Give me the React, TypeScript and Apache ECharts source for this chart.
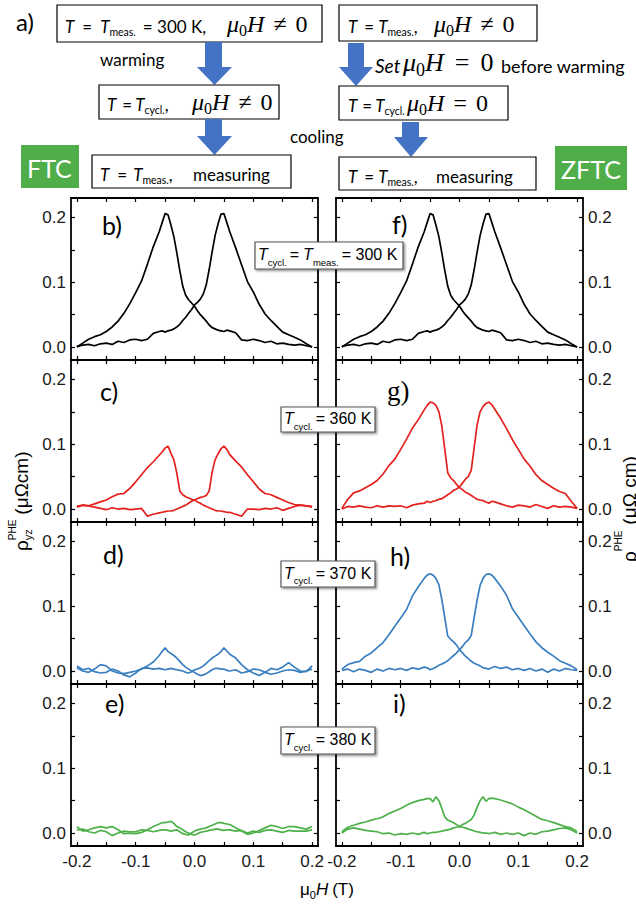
import { useEffect, useRef } from "react";
import * as echarts from "echarts";

// ---------- data ----------
const X = [
  -0.2, -0.19, -0.18, -0.17, -0.16, -0.15, -0.14, -0.13, -0.12, -0.11, -0.1, -0.09, -0.08, -0.07, -0.06,
  -0.055, -0.05, -0.045, -0.04, -0.035, -0.03, -0.025, -0.02, -0.015, -0.01, -0.005, 0, 0.005, 0.01, 0.015, 0.02, 0.025, 0.03, 0.035, 0.04, 0.045, 0.05, 0.055,
  0.06, 0.07, 0.08, 0.09, 0.1, 0.11, 0.12, 0.13, 0.14, 0.15, 0.16, 0.17, 0.18, 0.19, 0.2,
];

// T_cycl = T_meas = 300 K (panels b and f)
const RT_DOWN = [
  0.000, 0.006, 0.012, 0.016, 0.019, 0.024, 0.031, 0.040, 0.052, 0.067, 0.084, 0.102, 0.128, 0.155, 0.178,
  0.192, 0.206, 0.204, 0.188, 0.170, 0.145, 0.118, 0.094, 0.080, 0.073, 0.068, 0.063, 0.056, 0.050, 0.045, 0.040, 0.034, 0.030, 0.028, 0.026, 0.025, 0.024, 0.026,
  0.025, 0.022, 0.011, 0.010, 0.012, 0.010, 0.007, 0.009, 0.005, 0.006, 0.004, 0.003, 0.004, 0.002, 0.000,
];
const RT_UP = [
  0.001, 0.003, 0.004, 0.002, 0.005, 0.006, 0.004, 0.009, 0.007, 0.011, 0.012, 0.010, 0.012, 0.021, 0.024,
  0.025, 0.023, 0.025, 0.026, 0.028, 0.031, 0.035, 0.041, 0.046, 0.052, 0.058, 0.065, 0.069, 0.074, 0.082, 0.096, 0.120, 0.147, 0.172, 0.190, 0.205, 0.206, 0.192,
  0.178, 0.153, 0.127, 0.101, 0.085, 0.066, 0.051, 0.041, 0.032, 0.023, 0.019, 0.015, 0.011, 0.005, 0.000,
];
// FTC 360 K (c)
const FTC360_DOWN = [
  0.004, 0.006, 0.005, 0.008, 0.011, 0.014, 0.019, 0.023, 0.024, 0.032, 0.042, 0.053, 0.064, 0.073, 0.083,
  0.088, 0.094, 0.097, 0.086, 0.076, 0.055, 0.028, 0.022, 0.019, 0.017, 0.015, 0.014, 0.011, 0.009, 0.006, 0.004, 0.002, 0.000, -0.002, -0.003, -0.003, -0.004, -0.005,
  -0.005, -0.008, -0.011, 0.000, 0.000, -0.001, 0.001, 0.000, 0.002, -0.002, 0.001, 0.004, 0.006, 0.005, 0.003,
];
const FTC360_UP = [
  0.003, 0.006, 0.005, 0.003, 0.001, -0.001, 0.002, 0.000, 0.001, -0.001, 0.000, 0.001, -0.011, -0.008, -0.006,
  -0.005, -0.004, -0.003, -0.003, -0.002, 0.000, 0.002, 0.004, 0.006, 0.009, 0.012, 0.014, 0.016, 0.018, 0.019, 0.021, 0.028, 0.057, 0.076, 0.085, 0.093, 0.097, 0.092,
  0.084, 0.074, 0.065, 0.053, 0.042, 0.031, 0.024, 0.022, 0.018, 0.014, 0.010, 0.007, 0.006, 0.005, 0.004,
];
// FTC 370 K (d)
const FTC370_DOWN = [
  0.005, 0.000, -0.002, 0.003, 0.010, 0.008, 0.000, -0.003, -0.004, -0.002, 0.000, 0.003, 0.008, 0.014, 0.024,
  0.030, 0.036, 0.030, 0.027, 0.024, 0.020, 0.015, 0.010, 0.006, 0.003, 0.000, -0.002, -0.005, -0.007, -0.006, -0.004, -0.001, 0.002, 0.004, 0.004, 0.003, 0.003, 0.001,
  0.000, 0.002, -0.003, -0.001, 0.003, 0.002, -0.002, -0.005, -0.003, 0.000, 0.002, 0.001, -0.002, 0.000, 0.003,
];
const FTC370_UP = [
  0.008, 0.002, 0.004, -0.001, -0.003, -0.002, 0.003, 0.000, -0.006, -0.009, -0.003, 0.004, 0.005, 0.003, 0.004,
  0.003, 0.002, 0.003, 0.004, 0.003, 0.002, 0.001, 0.000, -0.002, -0.003, -0.001, 0.002, 0.003, 0.005, 0.008, 0.012, 0.016, 0.020, 0.023, 0.026, 0.030, 0.036, 0.031,
  0.026, 0.020, 0.010, 0.002, -0.003, -0.007, -0.002, 0.004, 0.002, 0.006, 0.013, 0.006, 0.000, -0.001, 0.008,
];
// FTC 380 K (e)
const FTC380_DOWN = [
  0.010, 0.003, 0.005, 0.008, 0.010, 0.008, 0.010, 0.005, -0.001, 0.000, -0.001, 0.001, 0.005, 0.010, 0.014,
  0.016, 0.016, 0.017, 0.018, 0.015, 0.010, 0.008, 0.005, 0.002, 0.000, -0.002, -0.003, -0.001, 0.001, 0.002, 0.003, 0.004, 0.005, 0.006, 0.006, 0.005, 0.004, 0.005,
  0.005, 0.003, 0.004, 0.000, 0.003, 0.001, 0.004, 0.005, 0.003, 0.001, 0.004, 0.003, 0.003, 0.003, 0.005,
];
const FTC380_UP = [
  0.005, 0.006, 0.002, 0.000, 0.004, 0.002, -0.004, 0.000, 0.003, 0.002, 0.002, 0.005, 0.004, 0.002, 0.004,
  0.005, 0.005, 0.004, 0.003, 0.004, 0.005, 0.002, -0.001, -0.002, -0.003, 0.000, 0.003, 0.005, 0.006, 0.007, 0.008, 0.010, 0.012, 0.014, 0.016, 0.016, 0.015, 0.014,
  0.013, 0.008, 0.003, -0.002, 0.000, 0.004, 0.008, 0.012, 0.010, 0.007, 0.010, 0.010, 0.008, 0.006, 0.010,
];
// ZFTC 360 K (g)
const ZFTC360_DOWN = [
  0.001, 0.015, 0.025, 0.028, 0.033, 0.038, 0.044, 0.054, 0.067, 0.077, 0.092, 0.108, 0.125, 0.138, 0.153,
  0.160, 0.165, 0.164, 0.160, 0.150, 0.128, 0.092, 0.056, 0.048, 0.044, 0.038, 0.033, 0.030, 0.026, 0.024, 0.021, 0.018, 0.015, 0.014, 0.013, 0.011, 0.009, 0.012,
  0.011, 0.008, 0.005, 0.003, 0.006, 0.005, 0.003, 0.007, 0.004, 0.001, 0.005, 0.003, 0.004, 0.003, 0.001,
];
const ZFTC360_UP = [
  0.000, 0.004, 0.003, 0.005, 0.003, 0.002, 0.005, 0.003, 0.005, 0.004, 0.005, 0.002, 0.006, 0.008, 0.009,
  0.012, 0.010, 0.012, 0.013, 0.015, 0.016, 0.019, 0.022, 0.025, 0.029, 0.031, 0.034, 0.040, 0.046, 0.050, 0.060, 0.095, 0.130, 0.150, 0.158, 0.163, 0.165, 0.161,
  0.154, 0.140, 0.124, 0.107, 0.092, 0.077, 0.066, 0.053, 0.044, 0.038, 0.032, 0.027, 0.024, 0.012, 0.001,
];
// ZFTC 370 K (h)
const ZFTC370_DOWN = [
  0.003, 0.010, 0.013, 0.015, 0.023, 0.028, 0.036, 0.044, 0.056, 0.069, 0.082, 0.095, 0.116, 0.130, 0.143,
  0.148, 0.150, 0.148, 0.143, 0.133, 0.110, 0.082, 0.054, 0.049, 0.045, 0.040, 0.033, 0.028, 0.023, 0.019, 0.015, 0.012, 0.010, 0.008, 0.005, 0.004, 0.003, 0.005,
  0.007, 0.004, 0.006, 0.002, 0.004, 0.001, 0.004, 0.000, 0.003, -0.002, 0.003, 0.000, 0.004, 0.002, 0.001,
];
const ZFTC370_UP = [
  0.001, 0.003, -0.001, 0.003, 0.001, -0.002, 0.003, 0.000, 0.004, 0.002, 0.004, 0.001, 0.005, 0.003, 0.006,
  0.005, 0.002, 0.004, 0.006, 0.009, 0.011, 0.013, 0.016, 0.020, 0.024, 0.028, 0.033, 0.038, 0.044, 0.048, 0.055, 0.083, 0.110, 0.132, 0.143, 0.149, 0.150, 0.148,
  0.143, 0.131, 0.117, 0.096, 0.083, 0.070, 0.057, 0.045, 0.036, 0.029, 0.023, 0.016, 0.012, 0.008, 0.002,
];
// ZFTC 380 K (i)
const ZFTC380_DOWN = [
  0.002, 0.009, 0.012, 0.015, 0.017, 0.020, 0.022, 0.025, 0.030, 0.034, 0.038, 0.043, 0.047, 0.050, 0.052,
  0.053, 0.053, 0.048, 0.056, 0.050, 0.038, 0.025, 0.020, 0.018, 0.016, 0.013, 0.010, 0.009, 0.008, 0.006, 0.005, 0.003, 0.002, 0.001, 0.000, 0.000, -0.001, 0.000,
  0.001, -0.002, 0.000, -0.002, 0.000, -0.004, 0.000, -0.002, 0.002, 0.003, 0.005, 0.007, 0.008, 0.005, 0.000,
];
const ZFTC380_UP = [
  0.000, 0.006, 0.008, 0.006, 0.004, 0.003, 0.002, -0.001, 0.000, -0.003, -0.001, -0.002, 0.000, -0.002, 0.001,
  -0.001, 0.000, 0.001, 0.001, 0.002, 0.003, 0.004, 0.005, 0.006, 0.008, 0.009, 0.010, 0.013, 0.015, 0.018, 0.021, 0.028, 0.040, 0.050, 0.056, 0.049, 0.053, 0.054,
  0.053, 0.051, 0.048, 0.045, 0.040, 0.036, 0.031, 0.026, 0.021, 0.019, 0.016, 0.013, 0.010, 0.008, 0.002,
];

const X_TICKS = [-0.2, -0.15, -0.1, -0.05, 0, 0.05, 0.1, 0.15, 0.2];
const X_LABELS = [-0.2, -0.1, 0, 0.1, 0.2];
const Y_TICKS = [0, 0.05, 0.1, 0.15, 0.2];
const Y_LABELS = [0, 0.1, 0.2];
const T_CYCL = ["300", "360", "370", "380"];
const ROW_COLORS = ["#000000", "#E3211E", "#3A7FC0", "#4EB04A"];
const LETTERS = [["b)", "c)", "d)", "e)"], ["f)", "g)", "h)", "i)"]];
const COLUMN_DATA = [
  [[RT_DOWN, RT_UP], [FTC360_DOWN, FTC360_UP], [FTC370_DOWN, FTC370_UP], [FTC380_DOWN, FTC380_UP]],
  [[RT_DOWN, RT_UP], [ZFTC360_DOWN, ZFTC360_UP], [ZFTC370_DOWN, ZFTC370_UP], [ZFTC380_DOWN, ZFTC380_UP]],
];

// ---------- layout ----------
const SANS = "'Liberation Sans', Arial, sans-serif";
const LATO = "Lato, 'Open Sans', sans-serif";
const SERIF = "'Liberation Serif', 'DejaVu Serif', serif";
const COL_X = [71, 336];
const COL_W = 247;
const ROW_Y = [198, 360, 522, 684];
const ROW_H = 162;
const GREEN = "#4FAE4A";
const ARROW = "#4472C4";

let mctx: CanvasRenderingContext2D | null = null;
function measure(t: string, font: string): number {
  if (!mctx) mctx = document.createElement("canvas").getContext("2d");
  if (!mctx) return t.length * 8;
  mctx.font = font;
  return mctx.measureText(t).width;
}

type Part = { t?: string; s?: number; f?: string; it?: boolean; dy?: number; gap?: number; stack?: boolean; at?: number };
function run(parts: Part[], x0: number, base: number, fill = "#000", z = 50): any[] {
  const out: any[] = [];
  let x = x0;
  let prevStart = x0;
  for (const p of parts) {
    if (p.at !== undefined) x = p.at;
    if (!p.t) {
      x += p.gap || 0;
      continue;
    }
    const size = p.s || 17;
    const fam = p.f || LATO;
    const font = `${p.it ? "italic " : ""}${size}px ${fam}`;
    const w = measure(p.t, font);
    const px = p.stack ? prevStart : x;
    out.push({
      type: "text",
      x: px,
      y: base + (p.dy || 0) - 0.35 * size,
      silent: true,
      z,
      style: { text: p.t, font, fill, textAlign: "left", textVerticalAlign: "middle" },
    });
    if (p.stack) x = Math.max(x, px + w);
    else {
      prevStart = px;
      x = px + w;
    }
  }
  return out;
}

const mathMuH = (rel: string, at?: number, size = 24, gap = 9): Part[] => [
  { t: "μ", f: SERIF, it: true, s: size, at },
  { t: "0", f: SERIF, s: Math.round(size * 0.68), dy: 4 },
  { t: "H", f: SERIF, it: true, s: size },
  { gap },
  { t: rel, f: SERIF, s: size },
  { gap },
  { t: "0", f: SERIF, s: size },
];
const tEq = (sub: string, g1 = 7, g2 = 6): Part[] => [
  { t: "T", it: true },
  { gap: g1 },
  { t: "=" },
  { gap: g2 },
  { t: "T", it: true },
  { t: sub, s: 10.5, dy: 4 },
];

function rect(x: number, y: number, w: number, h: number, fill: string, stroke?: string, extra: any = {}) {
  return {
    type: "rect",
    silent: true,
    z: 40,
    shape: { x, y, width: w, height: h },
    style: { fill, stroke: stroke || null, lineWidth: stroke ? 1.2 : 0, ...extra },
  };
}
function arrow(x1: number, x2: number, hx1: number, hx2: number, y1: number, yh: number, y2: number) {
  return {
    type: "polygon",
    silent: true,
    z: 40,
    shape: {
      points: [
        [x1, y1], [x2, y1], [x2, yh], [hx2, yh], [(hx1 + hx2) / 2, y2], [hx1, yh], [x1, yh],
      ],
    },
    style: { fill: ARROW },
  };
}

function buildOption() {
  const grid: any[] = [];
  const xAxis: any[] = [];
  const yAxis: any[] = [];
  const series: any[] = [];
  const lineStyle = { color: "#000", width: 1.8 };
  const tickStyle = { color: "#000", width: 1.2 };
  const labelBase = { fontSize: 17, fontFamily: SANS, color: "#1a1a1a" };
  for (let c = 0; c < 2; c++) {
    for (let r = 0; r < 4; r++) {
      const gi = grid.length;
      grid.push({ left: COL_X[c], top: ROW_Y[r], width: COL_W, height: ROW_H, containLabel: false });
      for (const pos of ["bottom", "top"]) {
        xAxis.push({
          gridIndex: gi, type: "value", min: -0.21, max: 0.21, position: pos,
          axisLine: { show: true, onZero: false, lineStyle },
          axisTick: { show: true, inside: true, length: 4, customValues: X_TICKS, lineStyle: tickStyle },
          axisLabel: {
            show: pos === "bottom" && r === 3, customValues: X_LABELS, margin: 7,
            formatter: (v: number) => v.toFixed(1), ...labelBase,
          },
          splitLine: { show: false },
        });
      }
      for (const pos of ["left", "right"]) {
        yAxis.push({
          gridIndex: gi, type: "value", min: -0.02, max: 0.23, position: pos,
          axisLine: { show: true, onZero: false, lineStyle },
          axisTick: { show: true, inside: true, length: 4, customValues: Y_TICKS, lineStyle: tickStyle },
          axisLabel: {
            show: (pos === "left" && c === 0) || (pos === "right" && c === 1),
            customValues: Y_LABELS, margin: 5,
            formatter: (v: number) => v.toFixed(1), ...labelBase,
          },
          splitLine: { show: false },
        });
      }
      const [down, up] = COLUMN_DATA[c][r];
      for (const arr of [down, up]) {
        series.push({
          type: "line", xAxisIndex: gi * 2, yAxisIndex: gi * 2, silent: true,
          showSymbol: false, symbol: "none", clip: true, z: 3,
          lineStyle: { color: ROW_COLORS[r], width: 1.7 },
          itemStyle: { color: ROW_COLORS[r] },
          data: X.map((x, k) => [x, arr[k]]),
        });
      }
    }
  }

  const g: any[] = [];
  // flowchart: left
  g.push(...run([{ t: "a)", s: 24 }], 16, 30));
  g.push(rect(57, 5, 265, 37, "#fff", "#000"));
  g.push(...run([...tEq("meas.", 8, 8), { gap: 7 }, { t: "= 300 K," }, ...mathMuH("≠", 227)], 65, 32));
  g.push(arrow(205, 222, 197, 232, 42, 67, 85));
  g.push(...run([{ t: "warming" }], 100, 65));
  g.push(rect(99, 85, 180, 34, "#fff", "#000"));
  g.push(...run([...tEq("cycl.", 6, 3), { t: "," }, ...mathMuH("≠", 192)], 107, 110));
  g.push(arrow(205, 222, 197, 232, 119, 136, 155));
  g.push(...run([{ t: "cooling" }], 290, 142));
  g.push(rect(92, 155, 199, 33, "#fff", "#000"));
  g.push(...run([...tEq("meas.", 8, 6), { t: "," }, { t: "measuring", at: 193 }], 100, 180));
  g.push(rect(21, 145, 58, 43, GREEN));
  g.push(...run([{ t: "FTC", s: 25 }], 27, 177, "#fff"));
  // flowchart: right
  g.push(rect(339, 5, 198, 36, "#fff", "#000"));
  g.push(...run([...tEq("meas.", 7, 4), { t: "," }, ...mathMuH("≠", 434)], 348, 32));
  g.push(arrow(348, 364, 339, 373, 43, 67, 86));
  g.push(...run([{ t: "Set", it: true, s: 19 }, ...mathMuH("=", 403, 26, 11), { t: "before warming", s: 18, at: 501 }], 375, 72));
  g.push(rect(339, 86, 169, 34, "#fff", "#000"));
  g.push(...run([...tEq("cycl.", 5, 3), ...mathMuH("=", 407)], 348, 111));
  g.push(arrow(402, 419, 394, 428, 122, 137, 157));
  g.push(rect(339, 157, 197, 33, "#fff", "#000"));
  g.push(...run([...tEq("meas.", 7, 4), { t: "," }, { t: "measuring", at: 436 }], 348, 182));
  g.push(rect(555, 146, 72, 44, GREEN));
  g.push(...run([{ t: "ZFTC", s: 25 }], 561, 178, "#fff"));

  // panel letters
  const letterPos = [
    [[102, 234], [100, 400], [103, 563], [105, 712]],
    [[392, 233], [387, 400], [390, 565], [393, 712]],
  ];
  for (let c = 0; c < 2; c++)
    for (let r = 0; r < 4; r++) {
      const serif = c === 1 && r === 1;
      g.push(...run([{ t: LETTERS[c][r], s: serif ? 27 : 25, f: serif ? SERIF : LATO }], letterPos[c][r][0], letterPos[c][r][1]));
    }

  // temperature boxes
  const tBoxes = [
    { x: 255, y: 242, w: 148, h: 27 },
    { x: 281, y: 407, w: 94, h: 25 },
    { x: 281, y: 561, w: 94, h: 26 },
    { x: 281, y: 727, w: 94, h: 27 },
  ];
  tBoxes.forEach((b, r) => {
    g.push({
      ...rect(b.x, b.y, b.w, b.h, "#fff", "#555", {
        shadowBlur: 2, shadowOffsetX: 1.5, shadowOffsetY: 1.5, shadowColor: "rgba(0,0,0,0.45)",
      }),
      z: 60,
    });
    const parts: Part[] = [
      { t: "T", it: true, f: SANS, s: 16 },
      { t: "cycl.", s: 9.5, f: SANS, dy: 5 },
      { gap: 3 },
    ];
    if (r === 0) parts.push({ t: "=", f: SANS, s: 16 }, { gap: 4 }, { t: "T", it: true, f: SANS, s: 16 }, { t: "meas.", s: 9.5, f: SANS, dy: 5 }, { gap: 3 });
    parts.push({ t: `= ${T_CYCL[r]} K`, f: SANS, s: 16 });
    g.push(...run(parts, b.x + 3, b.y + b.h / 2 + 5, "#000", 61));
  });

  // axis titles
  g.push(...run([{ t: "μ", f: SANS }, { t: "0", s: 11, f: SANS, dy: 4 }, { t: "H", it: true, f: SANS }, { gap: 4 }, { t: "(T)", f: SANS }], 300, 895));
  g.push({
    type: "group", x: 28, y: 551, rotation: Math.PI / 2,
    children: run([{ t: "ρ", s: 19, f: SANS }, { t: "PHE", s: 10, f: SANS, dy: -12 }, { t: "yz", s: 11, f: SANS, dy: 4, stack: true }, { gap: 5 }, { t: "(μΩcm)", s: 19, f: SANS }], 0, 0),
  });
  g.push({
    type: "group", x: 636, y: 562, rotation: Math.PI / 2,
    children: run([{ t: "ρ", s: 19, f: SANS }, { t: "PHE", s: 10, f: SANS, dy: -14 }, { gap: 6 }, { t: "(μΩ cm)", s: 19, f: SANS }], 0, 0),
  });

  return {
    animation: false,
    backgroundColor: "#fff",
    grid, xAxis, yAxis, series,
    graphic: { elements: g },
  };
}

export default function App() {
  const ref = useRef<HTMLDivElement>(null);
  useEffect(() => {
    document.body.style.margin = "0";
    if (!ref.current) return;
    const chart = echarts.init(ref.current, undefined, { renderer: "svg" });
    chart.setOption(buildOption());
    return () => chart.dispose();
  }, []);
  return <div ref={ref} style={{ width: 636, height: 907 }} />;
}
